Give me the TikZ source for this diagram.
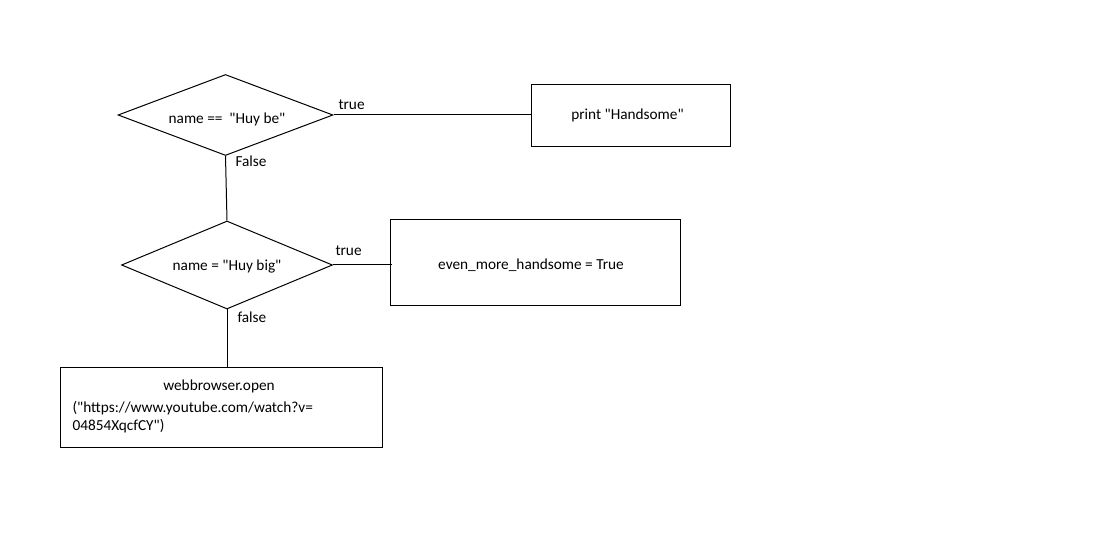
\documentclass[tikz,border=0pt]{standalone}
\usepackage{fontspec}
\setmainfont{Carlito}[Ligatures=TeXOff]
\usetikzlibrary{shapes.geometric}
\begin{document}
\begin{tikzpicture}[x=1pt,y=-1pt,line width=1pt,
  every node/.style={font=\fontsize{15.3}{20}\selectfont},
  decision/.style={draw,diamond,inner sep=0pt,shape aspect=2.65},
  procbox/.style={draw,rectangle,inner sep=0pt},
  edgelabel/.style={inner sep=0pt,anchor=base west},
  plaintext/.style={inner sep=0pt}]
\useasboundingbox (0,0) rectangle (1093,537);

% decisions
\node[decision,minimum width=215,minimum height=81] (d1) at (225.5,115) {};
\node[plaintext] (d1text) at (227,119) {name ==\ \ "Huy be"};
\node[decision,minimum width=211,minimum height=88] (d2) at (227,265) {};
\node[plaintext] (d2text) at (227,267) {name = "Huy big"};

% actions
\node[procbox,minimum width=199,minimum height=62] (b1) at (630.5,116) {};
\node[plaintext] (b1text) at (627.5,115) {print "Handsome"};
\node[procbox,minimum width=290,minimum height=86] (b2) at (535,263) {};
\node[plaintext] (b2text) at (531,265) {even\_more\_handsome = True};
\node[procbox,minimum width=322,minimum height=79] (b3) at (221,407.5) {};
\node[plaintext,anchor=base] (b3l1) at (219,391) {webbrowser.open};
\node[plaintext,anchor=base west] (b3l2) at (72,413) {("https://www.youtube.com/watch?v=};
\node[plaintext,anchor=base west] (b3l3) at (72,431) {04854XqcfCY")};

% connectors
\draw (d1.east) -- (d1.east -| b1.west);
\draw (d1.south) -- (d2.north);
\draw (d2.east) -- ([xshift=2pt]d2.east -| b2.west);
\draw (d2.south) -- (d2.south |- b3.north);

% connector labels
\node[edgelabel] (t1) at (338,110) {true};
\node[edgelabel] (f1) at (235,167) {False};
\node[edgelabel] (t2) at (335,256) {true};
\node[edgelabel] (f2) at (237,323) {false};
\end{tikzpicture}
\end{document}
